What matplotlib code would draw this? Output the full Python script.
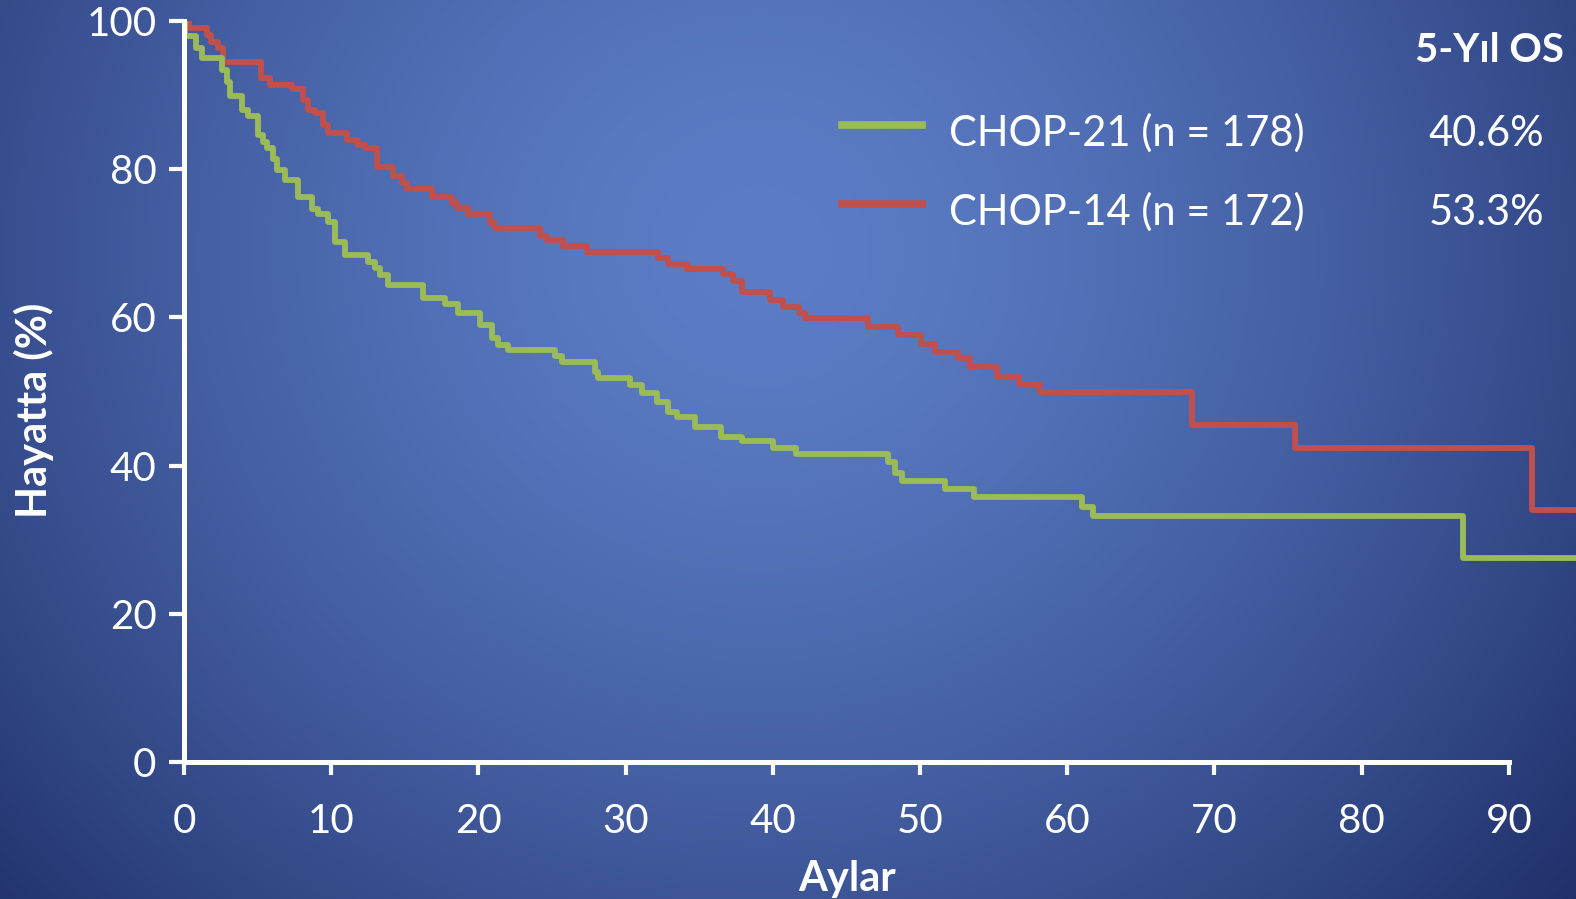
"""
Kaplan-Meier curves, CHOP-14 vs CHOP-21 (5-year OS)
"""
import numpy as np
import matplotlib
matplotlib.use('Agg')
import matplotlib.pyplot as plt

# --- data ------------------------------------------------------------------
chop21_months = [0, 0.07, 0.82, 1.22, 2.58, 2.92, 3.13, 3.94, 4.35, 5.03, 5.37, 5.64,
                 6.05, 6.32, 6.86, 7.74, 8.7, 9.1, 9.78, 10.26, 10.94, 12.5, 12.98,
                 13.32, 13.86, 16.24, 17.73, 18.61, 20.1, 20.92, 21.33, 22.01, 25.2,
                 25.68, 27.92, 28.13, 30.3, 31.1, 32.1, 32.9, 33.5, 34.7, 36.5, 37.9,
                 40.0, 41.6, 47.8, 48.3, 48.8, 51.7, 53.7, 61.0, 61.75, 86.9, 95]
chop21_surv = [100, 98, 96.4, 95, 93.4, 91.8, 89.9, 88, 87.2, 84.6, 83.7, 82.9,
               81.4, 79.9, 78.5, 76.2, 74.6, 74, 72.9, 70.2, 68.4, 67.5, 66.7,
               65.7, 64.4, 62.6, 61.8, 60.6, 59, 57.2, 56.3, 55.6, 54.8,
               54, 52.6, 51.8, 50.9, 49.8, 48.6, 47.2, 46.6, 45.2, 43.9, 43.3,
               42.4, 41.6, 40.5, 39, 37.9, 36.8, 35.8, 34.4, 33.2, 27.5, 27.5]

chop14_months = [0, 0.34, 1.56, 1.83, 2.31, 2.65, 5.23, 5.84, 7.34, 8.08, 8.42, 8.9,
                 9.44, 9.78, 11.07, 11.82, 12.3, 13.11, 14.2, 14.81, 15.15, 16.85,
                 18.2, 18.55, 19.3, 20.8, 21.13, 24.18, 24.66, 25.75, 27.38, 32.2,
                 32.9, 34.17, 36.6, 37.3, 37.9, 39.8, 40.7, 41.8, 42.2, 46.5, 48.5,
                 50.1, 51.0, 52.6, 53.4, 55.2, 56.7, 58.15, 68.5, 75.5, 91.6, 95]
chop14_surv = [100, 99, 98.1, 97.2, 96.4, 94.5, 92.3, 91.4, 90.8, 89.3, 88, 87.6,
               86, 84.9, 83.9, 83.3, 82.9, 80.3, 79.1, 78.1, 77.3, 76.2,
               75.4, 74.8, 74, 72.7, 72.1, 71, 70.4, 69.6, 68.8, 68,
               67.2, 66.5, 65.9, 64.9, 63.4, 62.3, 61.4, 60.6, 59.9, 58.7, 57.6,
               56.4, 55.3, 54.5, 53.3, 52, 51, 50, 45.5, 42.4, 34, 34]

legend_labels = ['CHOP-21 (n = 178)', 'CHOP-14 (n = 172)']
os_5yr = ['40.6%', '53.3%']
x_ticks = list(range(0, 100, 10))
y_ticks = list(range(0, 120, 20))

GREEN = '#9BBB59'
RED = '#C0504D'
W, H = 1576, 899

plt.rcParams['font.family'] = ['Lato', 'DejaVu Sans']


def px(x, y):
    """pixel (from top-left) -> figure fraction"""
    return x / W, 1 - y / H


fig = plt.figure(figsize=(W / 100, H / 100), dpi=100)

# radial blue background
bg = fig.add_axes([0, 0, 1, 1], zorder=-10)
yy, xx = np.mgrid[0:H, 0:W]
d = np.sqrt(((xx - 760) / 1.0) ** 2 + ((yy - 250) / 0.95) ** 2)
t = np.clip(d / 1080, 0, 1) ** 1.5
centre = np.array([92, 125, 198]) / 255
edge = np.array([30, 46, 104]) / 255
img = centre[None, None, :] + (edge - centre)[None, None, :] * t[:, :, None]
bg.imshow(img, aspect='auto', extent=[0, 1, 0, 1])
bg.axis('off')

# main axes
left, top = px(184, 21)
_, bottom = px(184, 762)
ax = fig.add_axes([left, bottom, 1 - left, top - bottom])
ax.set_facecolor('none')

ax.plot(chop14_months, chop14_surv, drawstyle='steps-post', color=RED, lw=4.2)
ax.plot(chop21_months, chop21_surv, drawstyle='steps-post', color=GREEN, lw=4.2)

ax.set_xlim(0, 1392 / 14.72)
ax.set_ylim(0, 100)
for s in ['top', 'right']:
    ax.spines[s].set_visible(False)
for s in ['left', 'bottom']:
    ax.spines[s].set_color('white')
    ax.spines[s].set_linewidth(3.6)
ax.spines['bottom'].set_bounds(0, 90)
ax.spines['left'].set_bounds(0, 100)

ax.set_xticks(x_ticks)
ax.set_yticks(y_ticks)
ax.tick_params(axis='x', colors='white', labelsize=29, width=3, length=9.5, pad=20)
ax.tick_params(axis='y', colors='white', labelsize=29, width=3, length=10.8, pad=9)

# axis titles
fig.text(*px(34, 410), 'Hayatta (%)', rotation=90, ha='center', va='center',
         color='white', fontsize=30, fontweight='bold')
fig.text(*px(847, 891), 'Aylar', ha='center', va='baseline',
         color='white', fontsize=30, fontweight='bold')

# legend drawn by hand
fig.text(*px(1564, 62), '5-Yıl OS', ha='right', va='baseline',
         color='white', fontsize=29, fontweight='bold')
for i, (lab, pct, col) in enumerate(zip(legend_labels, os_5yr, [GREEN, RED])):
    y = 125 + 79 * i
    x0, yf = px(842, y)
    x1, _ = px(922, y)
    fig.add_artist(plt.Line2D([x0, x1], [yf, yf], color=col, lw=5.5,
                              transform=fig.transFigure))
    fig.text(*px(949, y + 21), lab, ha='left', va='baseline',
             color='white', fontsize=30)
    fig.text(*px(1544, y + 21), pct, ha='right', va='baseline',
             color='white', fontsize=30)

plt.savefig('out.png', dpi=100)
plt.close()
